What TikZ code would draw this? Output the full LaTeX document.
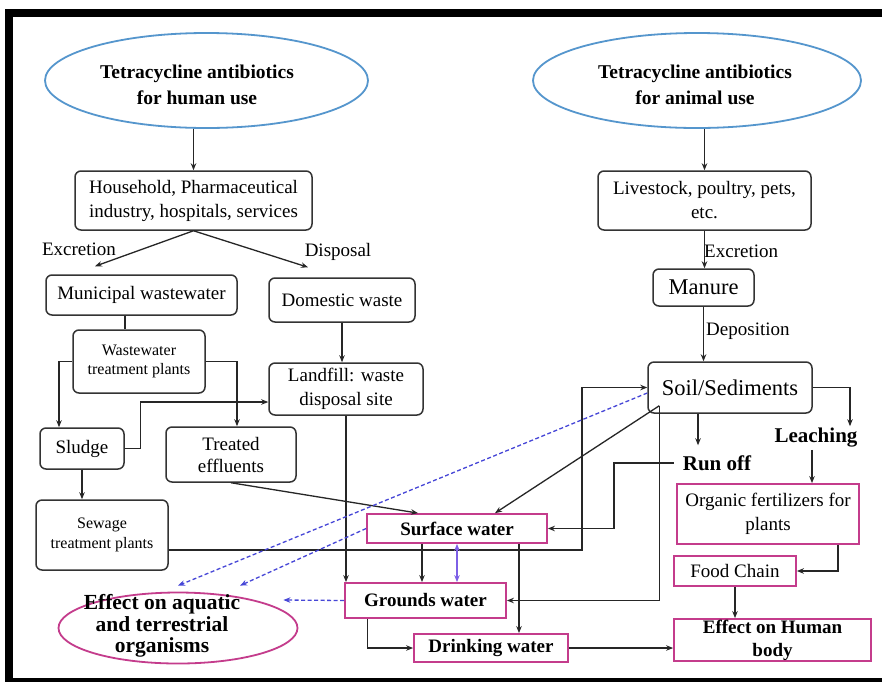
\documentclass[tikz,border=0pt]{standalone}
\usepackage{tikz}
\usepackage{fontspec}
\setmainfont{Liberation Serif}
\usetikzlibrary{shapes.geometric,arrows.meta,calc}
\definecolor{blueE}{RGB}{85,150,205}
\definecolor{pinkE}{RGB}{196,60,140}
\definecolor{dashB}{RGB}{70,70,215}
\definecolor{dblB}{RGB}{125,95,230}
\begin{document}
\begin{tikzpicture}[x=1pt,y=-1pt,
  >={Stealth[length=7pt,width=5.5pt]},
  bx/.style={draw=black!80, line width=1.5pt, rounded corners=6pt, align=center, inner sep=0pt,
             font=\fontsize{19}{24}\selectfont},
  smallbx/.style={bx, font=\fontsize{16}{19.5}\selectfont},
  pb/.style={draw=pinkE, line width=1.8pt, align=center, inner sep=0pt,
             font=\bfseries\fontsize{19}{23}\selectfont},
  pbr/.style={pb, font=\fontsize{19}{24}\selectfont},
  ell/.style={ellipse, draw=#1, line width=1.8pt, inner sep=0pt},
  etxt/.style={align=center, font=\bfseries\fontsize{19.5}{25.5}\selectfont},
  lab/.style={font=\fontsize{19}{22}\selectfont, inner sep=2pt},
  blab/.style={font=\bfseries\fontsize{21}{24}\selectfont, inner sep=2pt},
  con/.style={draw=black!85, line width=1.3pt, ->},
  ln/.style={draw=black!85, line width=1.3pt},
  dsh/.style={draw=dashB, line width=1.3pt, dash pattern=on 4pt off 2.5pt, ->},
  dbl/.style={draw=dblB, line width=1.1pt, <->}
]
\useasboundingbox (0,0) rectangle (882,681);
\fill[white] (0,0) rectangle (882,681);
\begin{scope}
  \clip (0,0) rectangle (882,681);
  \draw[line width=7.5pt, line join=miter] (895,13) -- (8.8,13) -- (8.8,681.5) -- (895,681.5);
\end{scope}

% ellipses
\node[ell=blueE, minimum width=323pt, minimum height=95pt] (eh) at (206.5,80.5) {};
\node[etxt] (ehT) at (197,85) {Tetracycline antibiotics\\for human use};
\node[ell=blueE, minimum width=328pt, minimum height=95pt] (ea) at (697,80.5) {};
\node[etxt] (eaT) at (695,85) {Tetracycline antibiotics\\for animal use};
\node[ell=pinkE, minimum width=239pt, minimum height=71pt] (eff) at (178,628) {};
\node[align=center, font=\bfseries\fontsize{21.5}{21.5}\selectfont] (effT) at (162,626)
  {Effect on aquatic\\and terrestrial\\organisms};

% boxes
\node[bx, minimum width=237pt, minimum height=59pt] (hh) at (193.5,200.5) {Household, Pharmaceutical\\industry, hospitals, services};
\node[bx, minimum width=213pt, minimum height=59pt] (live) at (704.5,200.5) {Livestock, poultry, pets,\\etc.};
\node[bx, minimum width=191pt, minimum height=40pt] (muni) at (141.5,295) {Municipal wastewater};
\node[bx, minimum width=146pt, minimum height=44pt] (dom) at (342,300) {Domestic waste};
\node[smallbx, minimum width=132pt, minimum height=63pt] (wwtp) at (139,361.5) {Wastewater\\treatment plants};
\node[bx, minimum width=154pt, minimum height=52pt] (lf) at (346,389) {Landfill: waste\\disposal site};
\node[bx, minimum width=84pt, minimum height=41pt] (sl) at (82,448.5) {Sludge};
\node[bx, minimum width=130pt, minimum height=55pt, font=\fontsize{19}{22}\selectfont] (te) at (231,454.5) {Treated\\effluents};
\node[smallbx, minimum width=132pt, minimum height=70pt] (sw) at (102,535) {Sewage\\treatment plants};
\node[bx, minimum width=101pt, minimum height=37pt, font=\fontsize{22.5}{26}\selectfont] (man) at (703.5,287.5) {Manure};
\node[bx, minimum width=164pt, minimum height=51pt, font=\fontsize{22.5}{26}\selectfont] (soil) at (730,387.5) {Soil/Sediments};
\node[pb, minimum width=180pt, minimum height=29pt] (surf) at (457,528.5) {Surface water};
\node[pb, minimum width=161pt, minimum height=35pt] (gw) at (425.5,600.5) {Grounds water};
\node[pb, minimum width=154pt, minimum height=28pt] (dw) at (491,648) {Drinking water};
\node[pbr, minimum width=182pt, minimum height=60pt] (org) at (768,514) {Organic fertilizers for\\plants};
\node[pbr, minimum width=122pt, minimum height=30pt] (food) at (735,571) {Food Chain};
\node[pb, minimum width=197pt, minimum height=42pt] (hum) at (772.5,640) {Effect on Human\\body};

% labels
\node[lab] (lex1) at (79,249) {Excretion};
\node[lab] (ldis) at (338,252) {Disposal};
\node[lab, anchor=west] (lex2) at (702,251) {Excretion};
\node[lab, anchor=west] (ldep) at (704,331) {Deposition};
\node[blab] (lrun) at (717,463) {Run off};
\node[blab] (lleach) at (816,438) {Leaching};

% helper coordinates
\coordinate (exE) at ([xshift=-46.5pt,yshift=8pt]muni.north);
\coordinate (dsE) at ([xshift=-34pt,yshift=10pt]dom.north);
\coordinate (m1) at ([xshift=-16.5pt]muni.south);
\coordinate (slN) at ([xshift=-23pt]sl.north);
\coordinate (teN) at ([xshift=6pt]te.north);
\coordinate (lfW) at ([yshift=-13pt]lf.west);
\coordinate (slB) at ([xshift=16pt]sl.east);
\coordinate (swE) at ([yshift=-15pt]sw.east);
\coordinate (k1) at (582,550);
\coordinate (surfT) at ([xshift=-39pt]surf.north);
\coordinate (soB) at ([xshift=-32pt]soil.south);
\coordinate (ro1) at ([xshift=-7pt]lrun.west);
\coordinate (rk) at (614,463);
\coordinate (lcN) at ([xshift=34pt]lleach.north);
\coordinate (lcS) at ([xshift=-4pt]lleach.south);
\coordinate (orgB) at ([xshift=70pt]org.south);
\coordinate (s1) at ([xshift=12pt,yshift=8pt]soil.south west);
\coordinate (sfT) at ([xshift=38pt]surf.north);
\coordinate (sf2) at ([xshift=-35pt]surf.south);
\coordinate (sf4) at ([xshift=62pt]surf.south);
\coordinate (gB) at ([xshift=-58pt]gw.south);
\coordinate (e1) at ([yshift=6pt]eff.north);
\coordinate (e2) at ([xshift=62pt,yshift=6pt]eff.north);
\coordinate (e3) at ([xshift=-15pt,yshift=28pt]eff.east);
\coordinate (soW) at ([yshift=-5.5pt]soil.west);

% connectors
\draw[con] (eh.south -| hh.north) -- (hh.north);
\draw[con] (ea.south -| live.north) -- (live.north);
\draw[con] (hh.south) -- (exE);
\draw[con] (hh.south) -- (dsE);
\draw[ln] (m1) -- (m1 |- wwtp.north);
\draw[con] (wwtp.west) -| (slN);
\draw[con] (wwtp.east) -| (teN);
\draw[con] (sl.east) -- (slB) |- (lfW);
\draw[con] (dom.south) -- (dom.south |- lf.north);
\draw[con] (lf.south) -- (lf.south |- gw.north);
\draw[con] (sl.south) -- (sl.south |- sw.north);
\draw[con] (swE) -- (k1) |- (soil.west);
\draw[con] (te.south) -- (surfT);
\draw[con] (live.south) -- (live.south |- man.north);
\draw[con] (man.south) -- (man.south |- soil.north);
\draw[con, shorten >=8pt] (soB) -- (soB |- lrun.north);
\draw[con] (ro1) -- (rk) |- (surf.east);
\draw[con] (soil.east) -| (lcN);
\draw[con] (lcS) -- (lcS |- org.north);
\draw[con] (orgB) |- (food.east);
\draw[con, line width=1.8pt] (food.south) -- (food.south |- hum.north);
\draw[con] (s1) -- (sfT);
\draw[con] (s1) |- (gw.east);
\draw[con, line width=1.8pt] (sf2) -- (sf2 |- gw.north);
\draw[dbl] (surf.south) -- (surf.south |- gw.north);
\draw[con] (sf4) -- (sf4 |- dw.north);
\draw[con] (gB) |- (dw.west);
\draw[con] (dw.east) -- (dw.east -| hum.west);
\draw[dsh] (soW) -- (e1);
\draw[dsh] (surf.west) -- (e2);
\draw[dsh] (gw.west) -- (e3);
\end{tikzpicture}
\end{document}
